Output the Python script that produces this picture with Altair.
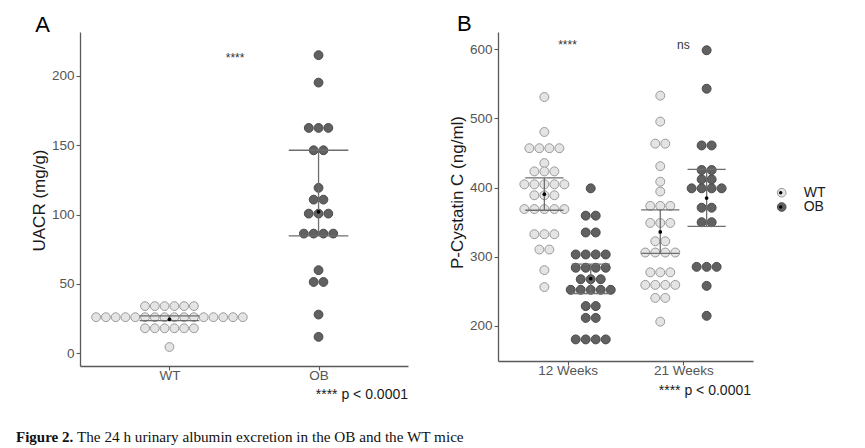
import altair as alt
import pandas as pd

# ---------------- Panel A : UACR (mg/g), one value per dot ----------------
A_GROUPS = ["WT", "OB"]
A_WT = [34.0, 34.0, 34.0, 34.0, 34.0, 34.0,
        26.0, 26.0, 26.0, 26.0, 26.0, 26.0, 26.0, 26.0,
        26.0, 26.0, 26.0, 26.0, 26.0, 26.0, 26.0, 26.0,
        18.0, 18.0, 18.0, 18.0, 18.0, 18.0,
        4.5]
A_OB = [215.0, 195.2, 162.5, 162.5, 162.5, 146.4, 146.4, 119.3,
        110.8, 110.8, 100.7, 100.7, 100.7, 86.3, 86.3, 86.3, 86.3,
        59.9, 51.4, 51.4, 27.9, 11.8]
A_MEAN = [24.5, 102.0]
A_LOW = [23.5, 84.6]
A_HIGH = [27.0, 146.4]
A_TICKS = [0, 50, 100, 150, 200]

# ---------------- Panel B : P-Cystatin C (ng/ml) ----------------
B_WEEKS = ["12 Weeks", "21 Weeks"]
B_12_WT = [531.0, 480.5, 457.0, 457.0, 457.0, 457.0, 435.5,
           423.5, 423.5, 423.5, 404.8, 404.8, 404.8, 404.8, 404.8,
           389.0, 389.0, 389.0, 369.0, 369.0, 369.0, 369.0, 369.0,
           332.7, 332.7, 332.7, 310.5, 310.5, 280.8, 256.3]
B_12_OB = [399.0, 359.5, 359.5, 335.2, 335.2, 303.4, 303.4, 303.4, 303.4,
           284.2, 284.2, 284.2, 284.2, 267.6, 267.6, 267.6,
           252.3, 252.3, 252.3, 252.3, 252.3, 228.8, 228.8, 211.7, 211.7,
           180.6, 180.6, 180.6, 180.6]
B_21_WT = [533.0, 495.5, 463.6, 463.6, 431.0, 408.6, 394.4,
           373.6, 373.6, 373.6, 349.0, 349.0, 349.0, 322.5, 322.5,
           306.2, 306.2, 306.2, 306.2, 277.6, 277.6, 277.6,
           259.4, 259.4, 259.4, 259.4, 240.6, 240.6, 206.3]
B_21_OB = [598.6, 543.0, 461.0, 461.0, 425.5, 425.5, 412.0, 412.0,
           399.0, 399.0, 399.0, 399.0, 371.0, 371.0, 350.0, 350.0,
           285.5, 285.5, 285.5, 258.0, 214.7]
B_MEAN_WT = [390.5, 336.0]
B_LOW_WT = [367.3, 305.0]
B_HIGH_WT = [414.0, 368.0]
B_MEAN_OB = [268.4, 385.0]
B_LOW_OB = [247.0, 344.0]
B_HIGH_OB = [289.3, 426.5]
B_TICKS = [200, 300, 400, 500, 600]

CAPTION_BOLD = "Figure 2."
CAPTION_TEXT = "The 24 h urinary albumin excretion in the OB and the WT mice"

# ---------------- style ----------------
FILL = ["#e4e4e4", "#616161"]
STROKE = ["#9a9a9a", "#4a4a4a"]
ERR = "#6e6e6e"
AXC = "#5a5a5a"
DODGE = 0.2
DOT_A = 0.0656   # one dot diameter in x data units (panel A)
DOT_B = 0.0863   # one dot diameter in x data units (panel B)
CAP_A = 0.2
CAP_B = 0.165

fill_scale = alt.Scale(domain=A_GROUPS, range=FILL)
stroke_scale = alt.Scale(domain=A_GROUPS, range=STROKE)


def axis(**kw):
    base = dict(grid=False, domainColor=AXC, domainWidth=1.3, tickColor=AXC, tickWidth=1.1,
                tickSize=4, labelFontSize=13.5, labelColor="#555555", labelPadding=2,
                titleFontSize=17, titleColor="#1a1a1a", titleFontWeight="normal")
    base.update(kw)
    return alt.Axis(**base)


# ---------------- data frames ----------------
dfA = pd.DataFrame({"group": ["WT"] * len(A_WT) + ["OB"] * len(A_OB), "value": A_WT + A_OB})
dfA["pos"] = dfA["group"].map({g: i + 1 for i, g in enumerate(A_GROUPS)})
sumA = pd.DataFrame({"group": A_GROUPS, "pos": [1, 2], "mean": A_MEAN, "low": A_LOW, "high": A_HIGH})

rows = []
for wi, (wt, ob) in enumerate([(B_12_WT, B_12_OB), (B_21_WT, B_21_OB)]):
    for g, vals in (("WT", wt), ("OB", ob)):
        for v in vals:
            rows.append({"week": B_WEEKS[wi], "group": g, "value": v,
                         "pos": wi + 1 + (-DODGE if g == "WT" else DODGE)})
dfB = pd.DataFrame(rows)
srows = []
for wi in range(2):
    srows.append({"week": B_WEEKS[wi], "group": "WT", "pos": wi + 1 - DODGE,
                  "mean": B_MEAN_WT[wi], "low": B_LOW_WT[wi], "high": B_HIGH_WT[wi]})
    srows.append({"week": B_WEEKS[wi], "group": "OB", "pos": wi + 1 + DODGE,
                  "mean": B_MEAN_OB[wi], "low": B_LOW_OB[wi], "high": B_HIGH_OB[wi]})
sumB = pd.DataFrame(srows)

# ---------------- Panel A ----------------
xA_scale = alt.Scale(domain=[0.4, 2.6], nice=False, zero=False)
yA_scale = alt.Scale(domain=[-9.2, 231.7], nice=False, zero=False)
xA_axis = axis(values=[1, 2], labelExpr="datum.value == 1 ? 'WT' : 'OB'", title=None, labelPadding=-2)
yA_axis = axis(values=A_TICKS, title="UACR (mg/g)", titleX=-41, titleY=168,
               titleAngle=-90, titleAlign="center", titleBaseline="middle")


def XA(f):
    return alt.X(f, scale=xA_scale, axis=xA_axis)


def YA(f):
    return alt.Y(f, scale=yA_scale, axis=yA_axis)


dotsA = alt.Chart(dfA).transform_window(
    idx="row_number()", n="count()", groupby=["group", "value"], frame=[None, None]
).transform_calculate(
    x=f"datum.pos + (datum.idx - (datum.n + 1) / 2) * {DOT_A}"
).mark_circle(size=78, opacity=1, strokeWidth=1).encode(
    x=XA("x:Q"), y=YA("value:Q"),
    fill=alt.Fill("group:N", scale=fill_scale, legend=None),
    stroke=alt.Stroke("group:N", scale=stroke_scale, legend=None),
)
barA = alt.Chart(sumA).mark_rule(color=ERR, strokeWidth=1.3).encode(
    x=XA("pos:Q"), y=YA("low:Q"), y2="high:Q")
capsA = alt.Chart(sumA).transform_fold(["low", "high"], as_=["k", "v"]).transform_calculate(
    xl=f"datum.pos - {CAP_A}", xr=f"datum.pos + {CAP_A}"
).mark_rule(color=ERR, strokeWidth=1.3).encode(x=XA("xl:Q"), x2="xr:Q", y=YA("v:Q"))
meanA = alt.Chart(sumA).mark_circle(color="black", size=14, opacity=1).encode(
    x=XA("pos:Q"), y=YA("mean:Q"))
starsA = alt.Chart(pd.DataFrame({"t": ["****"], "x": [1.44], "y": [210.0]})).mark_text(
    fontSize=12, color="#333333", baseline="alphabetic").encode(x=XA("x:Q"), y=YA("y:Q"), text="t:N")
pA = alt.Chart(pd.DataFrame({"t": ["**** p < 0.0001"]})).mark_text(
    fontSize=14, color="#1a1a1a", align="right", baseline="alphabetic").encode(
    x=alt.value(328), y=alt.value(367), text="t:N")
labA = alt.Chart(pd.DataFrame({"t": ["A"]})).mark_text(
    fontSize=22, color="black", align="left", baseline="top").encode(
    x=alt.value(-44.7), y=alt.value(-16.6), text="t:N")
cap1 = alt.Chart(pd.DataFrame({"t": [CAPTION_BOLD]})).mark_text(
    font="Liberation Serif", fontSize=15, fontWeight="bold", color="#111111",
    align="left", baseline="alphabetic").encode(x=alt.value(-64), y=alt.value(410), text="t:N")
cap2 = alt.Chart(pd.DataFrame({"t": [CAPTION_TEXT]})).mark_text(
    font="Liberation Serif", fontSize=15.2, color="#111111",
    align="left", baseline="alphabetic").encode(x=alt.value(-3), y=alt.value(410), text="t:N")

panelA = alt.layer(dotsA, barA, capsA, meanA, starsA, pA, labA, cap1, cap2).properties(
    width=328, height=334)

# ---------------- Panel B ----------------
xB_scale = alt.Scale(domain=[0.4, 2.6], nice=False, zero=False)
yB_scale = alt.Scale(domain=[149.4, 625.0], nice=False, zero=False)
xB_axis = axis(values=[1, 2], labelExpr="datum.value == 1 ? '12 Weeks' : '21 Weeks'",
               title=None, labelPadding=-2)
yB_axis = axis(values=B_TICKS, title="P-Cystatin C (ng/ml)", titleX=-40.3, titleY=160,
               titleAngle=-90, titleAlign="center", titleBaseline="middle")


def XB(f):
    return alt.X(f, scale=xB_scale, axis=xB_axis)


def YB(f):
    return alt.Y(f, scale=yB_scale, axis=yB_axis)


legB = alt.Legend(title=None, orient="none", legendX=276.7, legendY=153.7, symbolType="circle",
                  symbolSize=75, symbolStrokeWidth=1, labelFontSize=14, labelColor="#1a1a1a",
                  labelOffset=15, rowPadding=0.3, padding=0, zindex=0)
dotsB = alt.Chart(dfB).transform_window(
    idx="row_number()", n="count()", groupby=["week", "group", "value"], frame=[None, None]
).transform_calculate(
    x=f"datum.pos + (datum.idx - (datum.n + 1) / 2) * {DOT_B}"
).mark_circle(size=80, opacity=1, strokeWidth=1).encode(
    x=XB("x:Q"), y=YB("value:Q"),
    fill=alt.Fill("group:N", scale=fill_scale, legend=legB),
    stroke=alt.Stroke("group:N", scale=stroke_scale, legend=legB),
)
barB = alt.Chart(sumB).mark_rule(color=ERR, strokeWidth=1.3).encode(
    x=XB("pos:Q"), y=YB("low:Q"), y2="high:Q")
capsB = alt.Chart(sumB).transform_fold(["low", "high"], as_=["k", "v"]).transform_calculate(
    xl=f"datum.pos - {CAP_B}", xr=f"datum.pos + {CAP_B}"
).mark_rule(color=ERR, strokeWidth=1.3).encode(x=XB("xl:Q"), x2="xr:Q", y=YB("v:Q"))
# legend of the black centre dots: a separate domain keeps it from merging with the fill legend
DOT_KEYS = [g + " " for g in A_GROUPS]
meanB = alt.Chart(sumB).transform_calculate(grp2="datum.group + ' '").mark_point(
    filled=True, color="black", size=14, opacity=1).encode(
    x=XB("pos:Q"), y=YB("mean:Q"),
    shape=alt.Shape("grp2:N", scale=alt.Scale(domain=DOT_KEYS, range=["circle", "circle"]),
                    legend=alt.Legend(title=None, orient="none", legendX=275.7, legendY=153.7,
                                      symbolSize=12, symbolFillColor="black",
                                      symbolStrokeColor="black", symbolStrokeWidth=0,
                                      labelFontSize=14, labelExpr="''", rowPadding=0.3,
                                      padding=0, zindex=1)))
starsB = alt.Chart(pd.DataFrame({"t": ["****", "ns"], "x": [1.0, 2.0], "y": [600.0, 601.0]})).mark_text(
    fontSize=12, color="#333333", baseline="alphabetic").encode(x=XB("x:Q"), y=YB("y:Q"), text="t:N")
pB = alt.Chart(pd.DataFrame({"t": ["**** p < 0.0001"]})).mark_text(
    fontSize=14, color="#1a1a1a", align="right", baseline="alphabetic").encode(
    x=alt.value(253), y=alt.value(363), text="t:N")
labB = alt.Chart(pd.DataFrame({"t": ["B"]})).mark_text(
    fontSize=22, color="black", align="left", baseline="top").encode(
    x=alt.value(-41), y=alt.value(-18.3), text="t:N")

panelB = alt.layer(dotsB, barB, capsB, meanB, starsB, pB, labB).properties(width=255, height=329)

chart = alt.hconcat(panelA, panelB, spacing=90, bounds="flush").resolve_scale(
    x="independent", y="independent", fill="independent", stroke="independent",
    shape="independent"
).resolve_legend(shape="independent", fill="independent", stroke="independent").properties(
    padding={"left": 7, "top": 4, "right": 5, "bottom": 2}
).configure(font="Liberation Sans").configure_view(stroke="transparent")

chart.save("out.html", embed_options={"renderer": "svg", "actions": False})
